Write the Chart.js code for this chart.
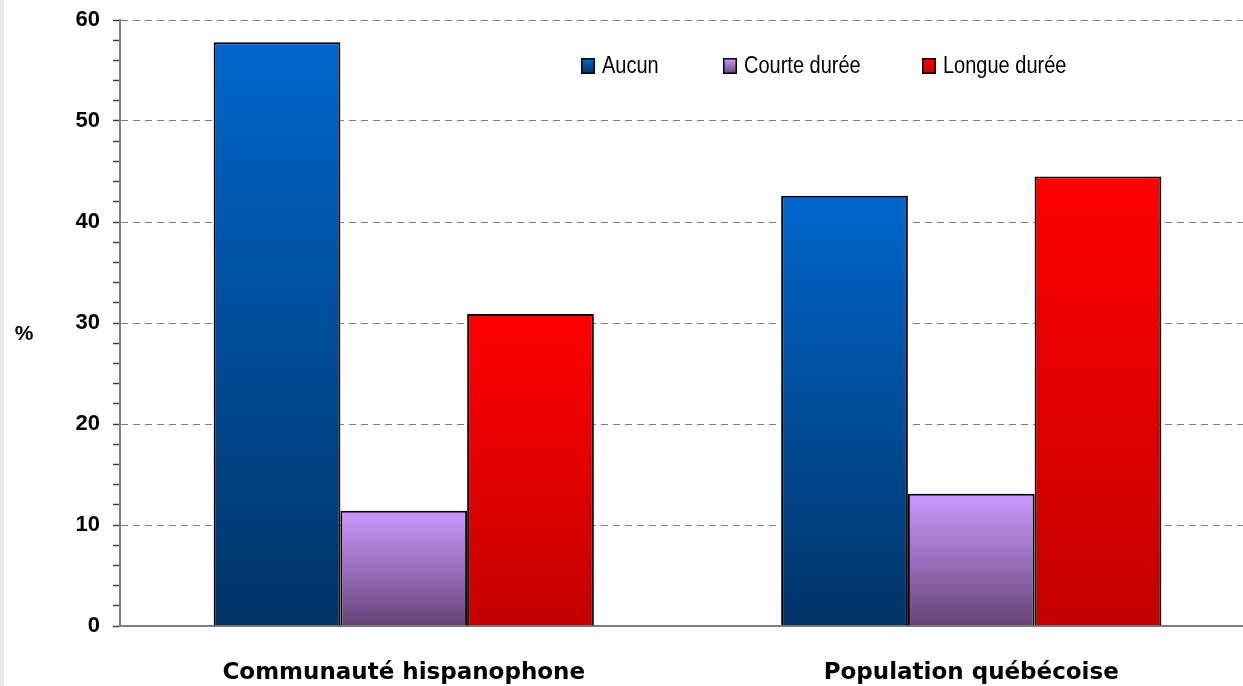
<!DOCTYPE html>
<html>
<head>
<meta charset="utf-8">
<script src="https://cdn.jsdelivr.net/npm/chart.js@4"></script>
<style>
  html, body { margin: 0; padding: 0; overflow: hidden; background: #fff; }
  #wrap { position: relative; width: 1256px; height: 686px; }
</style>
</head>
<body>
<div id="wrap"><canvas id="myChart" width="1256" height="686"></canvas></div>
<script>
const categories = ['Communauté hispanophone', 'Population québécoise'];
const seriesNames = ['Aucun', 'Courte durée', 'Longue durée'];
const aucun = [57.8, 42.6];
const courteDuree = [11.4, 13.1];
const longueDuree = [30.9, 44.5];
const yTicks = [0, 10, 20, 30, 40, 50, 60];

// gradient colour stops for each series (top -> bottom)
const blueStops = [[0, '#0066cc'], [1, '#003366']];
const purpleStops = [[0, '#cc99ff'], [1, '#664477']];
const redStops = [[0, '#ff0000'], [1, '#c40000']];

function barGradient(stops) {
  return (c) => {
    const chart = c.chart;
    if (!chart.chartArea || c.raw === undefined) return stops[0][1];
    const y = chart.scales.y;
    const top = y.getPixelForValue(c.raw);
    const bottom = y.getPixelForValue(0);
    const g = chart.ctx.createLinearGradient(0, top, 0, bottom);
    stops.forEach(s => g.addColorStop(s[0], s[1]));
    return g;
  };
}

// white background, grey strip on the left, "%" label and legend
const extras = {
  id: 'extras',
  beforeDraw(chart) {
    const ctx = chart.ctx;
    ctx.save();
    ctx.fillStyle = '#ffffff';
    ctx.fillRect(0, 0, chart.width, chart.height);
    ctx.fillStyle = '#e8e8e8';
    ctx.fillRect(0, 0, 4, chart.height);
    ctx.restore();
  },
  afterDraw(chart) {
    const ctx = chart.ctx;
    ctx.save();
    ctx.fillStyle = '#000';
    ctx.font = 'bold 21px Arial, "Liberation Sans", sans-serif';
    ctx.textAlign = 'center';
    ctx.textBaseline = 'middle';
    ctx.fillText('%', 24, 334);

    const boxX = [581, 723, 922];
    const allStops = [blueStops, purpleStops, redStops];
    ctx.textAlign = 'left';
    chart.data.datasets.forEach((ds, i) => {
      const x = boxX[i], y = 58;
      const g = ctx.createLinearGradient(0, y, 0, y + 16);
      allStops[i].forEach(s => g.addColorStop(s[0], s[1]));
      ctx.fillStyle = g;
      ctx.fillRect(x, y, 14, 16);
      ctx.strokeStyle = '#000';
      ctx.lineWidth = 1.5;
      ctx.strokeRect(x + 0.75, y + 0.75, 12.5, 14.5);
      // legend text: slightly taller than wide, like the original
      ctx.save();
      ctx.translate(x + 21, y + 9);
      ctx.scale(1, 1.15);
      ctx.fillStyle = '#000';
      ctx.font = '20px Arial, "Liberation Sans", sans-serif';
      ctx.fillText(ds.label, 0, 0);
      ctx.restore();
    });
    ctx.restore();
  }
};

const ctx = document.getElementById('myChart').getContext('2d');

const myChart = new Chart(ctx, {
  type: 'bar',
  data: {
    labels: categories,
    datasets: [
      { label: seriesNames[0], data: aucun, backgroundColor: barGradient(blueStops) },
      { label: seriesNames[1], data: courteDuree, backgroundColor: barGradient(purpleStops) },
      { label: seriesNames[2], data: longueDuree, backgroundColor: barGradient(redStops) }
    ]
  },
  options: {
    responsive: false,
    animation: false,
    layout: { padding: { top: 20, right: 1, left: 0, bottom: 0 } },
    datasets: {
      bar: {
        borderColor: '#000',
        borderWidth: 2,
        categoryPercentage: 0.67,
        barPercentage: 1
      }
    },
    plugins: {
      legend: { display: false },
      tooltip: { enabled: false }
    },
    scales: {
      x: {
        grid: { display: false, drawTicks: false },
        border: { display: true, color: '#808080', width: 2 },
        ticks: {
          color: '#000',
          font: { family: '"DejaVu Sans", Arial, sans-serif', size: 23, weight: 'bold' },
          padding: 33,
          maxRotation: 0
        },
        afterFit(scale) { scale.height = 60; }
      },
      y: {
        min: 0,
        max: 60,
        ticks: {
          stepSize: 2,
          autoSkip: false,
          color: '#000',
          font: { family: 'Arial, "Liberation Sans", sans-serif', size: 22, weight: 'bold' },
          padding: 13,
          callback: (v) => yTicks.includes(v) ? v : ''
        },
        grid: {
          color: (c) => (c.tick && c.tick.value % 10 === 0 && c.tick.value !== 0) ? '#808080' : 'rgba(0,0,0,0)',
          lineWidth: 1,
          tickColor: '#404040',
          tickLength: 7,
          tickWidth: 1.5
        },
        border: { display: true, color: '#808080', width: 2, dash: [7, 5] },
        afterFit(scale) {
          scale.width = 120;
          scale.paddingTop = 0;
          scale.paddingBottom = 0;
        }
      }
    }
  },
  plugins: [extras]
});
</script>
</body>
</html>
